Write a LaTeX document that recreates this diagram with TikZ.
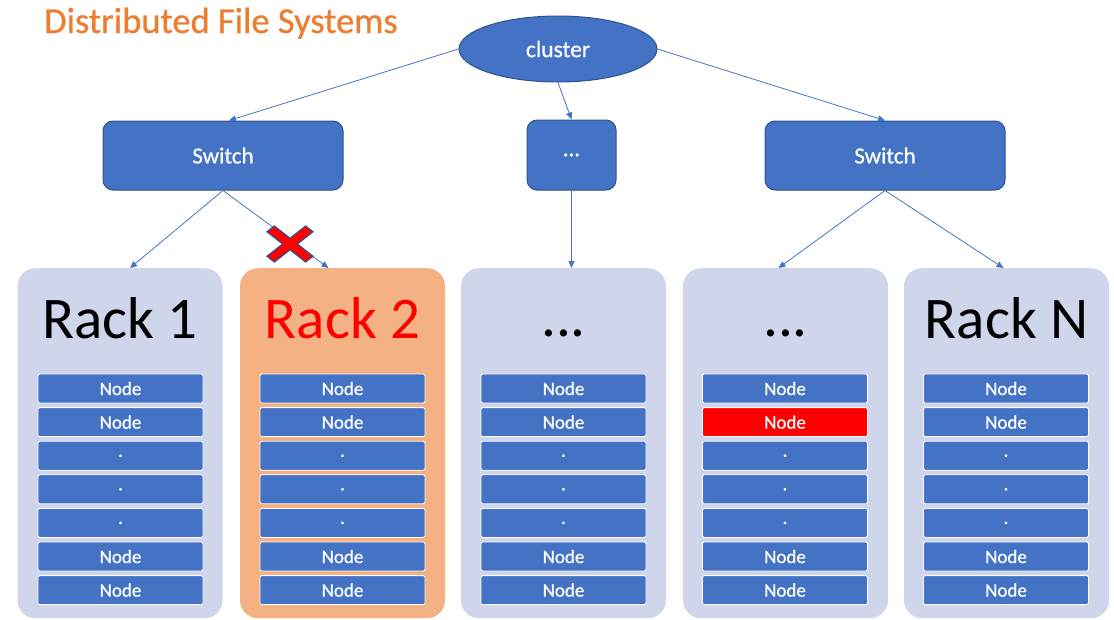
\documentclass[tikz,border=0pt]{standalone}
\usepackage{fontspec}
\setmainfont{Carlito}
\newfontfamily\labelfont{Carlito}[FakeBold=0.6]
\usetikzlibrary{arrows.meta, shapes.geometric}
\definecolor{accent}{HTML}{4472C4}
\definecolor{edge}{HTML}{2F528F}
\definecolor{rackfill}{HTML}{CFD5EA}
\definecolor{hotfill}{HTML}{F4B183}
\definecolor{titleor}{HTML}{ED7D31}
\tikzset{
  hub/.style={draw=edge, line width=1pt, fill=accent, text=white, rounded corners=10pt,
    font=\labelfont\fontsize{23}{25}\selectfont},
  rack/.style={fill=rackfill, rounded corners=18pt, minimum width=205pt, minimum height=350pt,
    anchor=north, inner sep=0pt},
  rackname/.style={font=\fontsize{59}{61}\selectfont, anchor=base},
  slot/.style={draw=white, line width=0.8pt, fill=accent, text=white, rounded corners=1.5pt,
    minimum width=165pt, minimum height=29pt, inner sep=0pt, font=\labelfont\fontsize{19}{21}\selectfont},
  link/.style={draw=accent, line width=0.8pt, -{Triangle[length=7pt, width=6pt]}},
}
\begin{document}
\begin{tikzpicture}[x=1pt, y=-1pt]
\useasboundingbox (0,0) rectangle (1114,619);

% title
\node[text=titleor, font=\labelfont\fontsize{36.5}{38}\selectfont, anchor=base west, inner sep=0pt] (title) at (44,33) {Distributed File Systems};

% root and switches
\node[ellipse, draw=edge, line width=1pt, fill=accent, text=white, minimum width=198pt,
  minimum height=66pt, inner sep=0pt, font=\labelfont\fontsize{23.5}{25}\selectfont] (cluster) at (558,49) {cluster};
\node[hub, minimum width=240pt, minimum height=69pt] (sw1) at (223,155.5) {Switch};
\node[hub, minimum width=89pt, minimum height=70pt] (swm) at (571.5,155) {...};
\node[hub, minimum width=240pt, minimum height=69pt] (sw2) at (885,155.5) {Switch};

% racks
\node[rack] (r1) at (120,268) {};
\node[rack, fill=hotfill] (r2) at (342.5,268) {};
\node[rack] (r3) at (563.5,268) {};
\node[rack] (r4) at (785.5,268) {};
\node[rack] (r5) at (1006.5,268) {};

\node[rackname] (n1) at (120,338) {Rack 1};
\node[rackname, text=red] (n2) at (342.5,338) {Rack 2};
\node[rackname] (n3) at (563.5,336) {...};
\node[rackname] (n4) at (785.5,336) {...};
\node[rackname] (n5) at (1006.5,338) {Rack N};

% node slots in every rack (\bad marks the failed slot, 0 = none)
\foreach \r/\cx/\bad in {1/120.5/0, 2/342.5/0, 3/563.5/0, 4/785/2, 5/1006/0} {
  \foreach \j/\lbl in {1/Node, 2/Node, 3/., 4/., 5/., 6/Node, 7/Node} {
    \ifnum\j=\bad \def\slotfill{red}\else\def\slotfill{accent}\fi
    \node[slot, fill=\slotfill] (s\r-\j) at (\cx, {388.5+33.6*(\j-1)}) {\lbl};
  }
}

% links
\draw[link] (cluster.west) -- ([xshift=6pt]sw1.north);
\draw[link] (cluster.south) -- (swm.north);
\draw[link] (cluster.east) -- (sw2.north);
\draw[link] (sw1.south) -- ([xshift=10pt]r1.north);
\draw[link] (sw1.south) -- ([xshift=-14pt]r2.north);
\draw[link] (swm.south) -- ([xshift=8pt]r3.north);
\draw[link] (sw2.south) -- ([xshift=-7pt]r4.north);
\draw[link] (sw2.south) -- ([xshift=-3pt]r5.north);

% broken link marker
\begin{scope}[shift={(290,244)}, xscale=23, yscale=18]
  \def\s{0.32}
  \draw[fill=red, draw=edge, line width=1.2pt, line join=miter]
    (-1,-1+\s) -- (-1+\s,-1) -- (0,-\s) -- (1-\s,-1) -- (1,-1+\s) -- (\s,0) --
    (1,1-\s) -- (1-\s,1) -- (0,\s) -- (-1+\s,1) -- (-1,1-\s) -- (-\s,0) -- cycle;
\end{scope}
\end{tikzpicture}
\end{document}
